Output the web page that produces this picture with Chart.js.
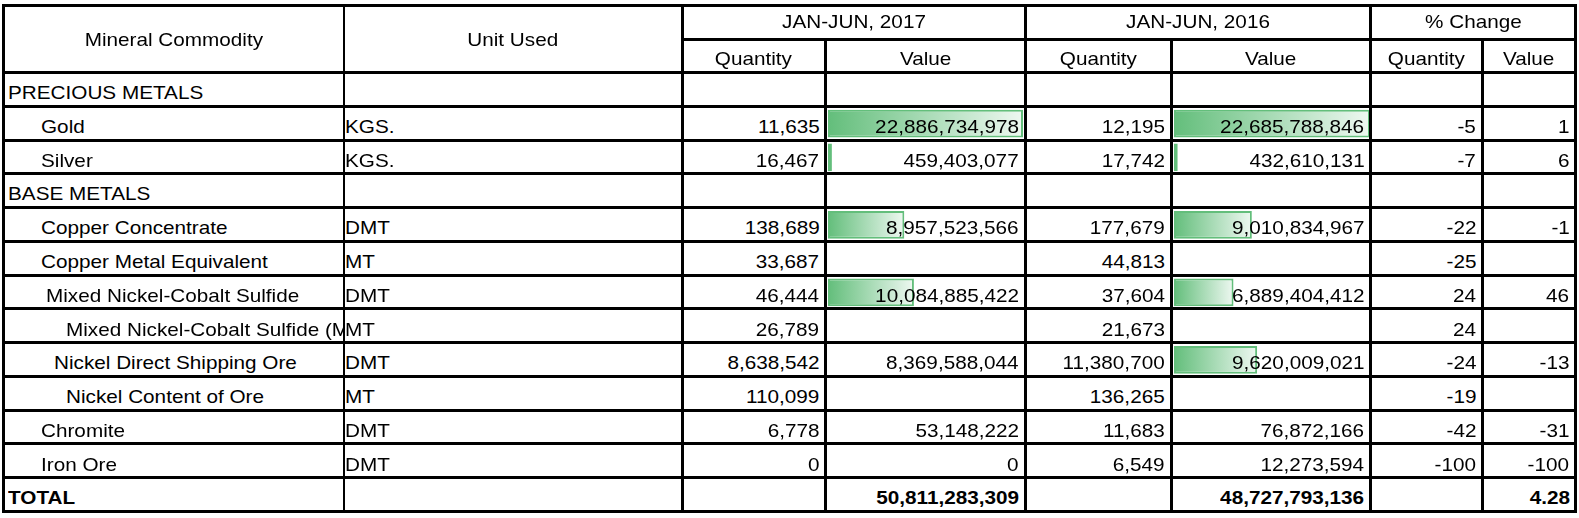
<!DOCTYPE html>
<html>
<head>
<meta charset="utf-8">
<script src="https://cdn.jsdelivr.net/npm/chart.js@4.4.1/dist/chart.umd.min.js"></script>
<style>
  html, body { margin: 0; padding: 0; background: #fff; }
  #sheet { position: relative; width: 1579px; height: 518px; overflow: hidden;
           font-family: 'Liberation Sans', Arial, sans-serif; color: #000; }
  .ln { position: absolute; background: #000; z-index: 2; }
  .c { position: absolute; height: 22px; line-height: 20px; font-size: 19px;
       white-space: nowrap; overflow: hidden; z-index: 3; }
  .c span { display: inline-block; transform: scaleX(1.09); }
  .c.b { font-weight: bold; }
  canvas { position: absolute; z-index: 1; }
</style>
</head>
<body>
<div id="sheet">
  <canvas id="bars-2017" width="195" height="405" style="left:828px; top:73px;"></canvas>
  <canvas id="bars-2016" width="196" height="405" style="left:1174px; top:73px;"></canvas>
</div>

<script>
// table rows
const commodities = [
  'PRECIOUS METALS', 'Gold', 'Silver', 'BASE METALS', 'Copper Concentrate',
  'Copper Metal Equivalent', 'Mixed Nickel-Cobalt Sulfide', 'Mixed Nickel-Cobalt Sulfide (M',
  'Nickel  Direct Shipping Ore', 'Nickel Content of Ore', 'Chromite', 'Iron Ore', 'TOTAL'
];
const units = ['', 'KGS.', 'KGS.', '', 'DMT', 'MT', 'DMT', 'MT', 'DMT', 'MT', 'DMT', 'DMT', ''];

const qty2017   = [null, 11635, 16467, null, 138689, 33687, 46444, 26789, 8638542, 110099, 6778, 0, null];
const value2017 = [null, 22886734978, 459403077, null, 8957523566, null, 10084885422, null, 8369588044, null, 53148222, 0, 50811283309];
const qty2016   = [null, 12195, 17742, null, 177679, 44813, 37604, 21673, 11380700, 136265, 11683, 6549, null];
const value2016 = [null, 22685788846, 432610131, null, 9010834967, null, 6889404412, null, 9620009021, null, 76872166, 12273594, 48727793136];
const pctQty    = [null, -5, -7, null, -22, -25, 24, 24, -24, -19, -42, -100, null];
const pctValue  = [null, 1, 6, null, -1, null, 46, null, -13, null, -31, -100, 4.28];

// cells that carry a data bar in the sheet (no total row)
const bars2017 = [null, 22886734978, 459403077, null, 8957523566, null, 10084885422, null, null, null, null, null];
const bars2016 = [null, 22685788846, 432610131, null, 9010834967, null, 6889404412, null, 9620009021, null, null, null];

// layout
const COLS = [3.5, 344, 682, 825.5, 1025, 1171, 1370.5, 1482, 1575.5];
const HEAD_TOP = 5, HEAD_MID = 39, HEAD_BOT = 72.5, ROW_H = 33.77;
const indent = [8, 41, 41, 8, 41, 41, 46, 66, 54, 66, 41, 41, 8];
const BAR_GREEN = '#63BE7B';

const sheet = document.getElementById('sheet');

function line(x, y, w, h) {
  const d = document.createElement('div');
  d.className = 'ln';
  d.style.left = x + 'px'; d.style.top = y + 'px';
  d.style.width = w + 'px'; d.style.height = h + 'px';
  sheet.appendChild(d);
}
function hline(y, x0, x1, t) { line(x0 - 1.5, y - t / 2, x1 - x0 + 3, t); }
function vline(x, y0, y1, t) { line(x - t / 2, y0 - 1.5, t, y1 - y0 + 3); }

function cell(text, x0, x1, baseline, align, bold) {
  if (text === '' || text == null) return;
  const d = document.createElement('div');
  d.className = 'c' + (bold ? ' b' : '');
  d.style.left = x0 + 'px';
  d.style.width = (x1 - x0) + 'px';
  d.style.top = (baseline - 16.6) + 'px';
  d.style.textAlign = align;
  const s = document.createElement('span');
  s.style.transformOrigin = align === 'right' ? 'right' : align === 'center' ? 'center' : 'left';
  s.textContent = text;
  d.appendChild(s);
  sheet.appendChild(d);
}

const fmt = v => v == null ? '' : v.toLocaleString('en-US');
const rowBottom = i => HEAD_BOT + ROW_H * (i + 1);
const TABLE_BOT = rowBottom(commodities.length - 1);

// grid
hline(HEAD_TOP, COLS[0], COLS[8], 3);
hline(HEAD_MID, COLS[2], COLS[8], 3);
hline(HEAD_BOT, COLS[0], COLS[8], 3);
commodities.forEach((c, i) => hline(rowBottom(i), COLS[0], COLS[8], 3));
[0, 2, 4, 6, 8].forEach(k => vline(COLS[k], HEAD_TOP, TABLE_BOT, 3));
vline(COLS[1], HEAD_TOP, TABLE_BOT, 2);
[3, 5, 7].forEach(k => vline(COLS[k], HEAD_MID, TABLE_BOT, 3));

// header
cell('Mineral Commodity', COLS[0], COLS[1], 46.5, 'center');
cell('Unit Used', COLS[1], COLS[2], 46.5, 'center');
cell('JAN-JUN, 2017', COLS[2], COLS[4], 29, 'center');
cell('JAN-JUN, 2016', COLS[4], COLS[6], 29, 'center');
cell('% Change', COLS[6], COLS[8], 29, 'center');
['Quantity', 'Value', 'Quantity', 'Value', 'Quantity', 'Value'].forEach((t, k) =>
  cell(t, COLS[k + 2], COLS[k + 3], 65.5, 'center'));

// body
const PAD = 6;
commodities.forEach((name, i) => {
  const base = rowBottom(i) - 6.5;
  const bold = i === commodities.length - 1;
  cell(name, indent[i], COLS[1] - 1, base, 'left', bold);
  cell(units[i], COLS[1] + 1, COLS[2] - 2, base, 'left', bold);
  [qty2017, value2017, qty2016, value2016, pctQty, pctValue].forEach((col, k) =>
    cell(fmt(col[i]), COLS[k + 2] + 2, COLS[k + 3] - PAD, base, 'right', bold));
});

// data bars
function setValueBars(id, bars) {
  const max = Math.max(...bars.filter(v => v != null));
  new Chart(document.getElementById(id), {
    type: 'bar',
    data: {
      labels: commodities.slice(0, bars.length),
      datasets: [{
        data: bars,
        borderColor: BAR_GREEN,
        borderWidth: 2,
        borderSkipped: false,
        barPercentage: 0.82,
        categoryPercentage: 1,
        backgroundColor: function(context) {
          const chart = context.chart;
          if (!chart.chartArea || context.raw == null) return BAR_GREEN;
          const x = chart.scales.x;
          const x0 = x.getPixelForValue(0);
          const x1 = x.getPixelForValue(context.raw);
          const g = chart.ctx.createLinearGradient(x0, 0, Math.max(x1, x0 + 1), 0);
          g.addColorStop(0, BAR_GREEN);
          g.addColorStop(1, '#EEF8F1');
          return g;
        },
      }],
    },
    options: {
      indexAxis: 'y',
      responsive: false,
      animation: false,
      layout: { padding: 0 },
      plugins: { legend: { display: false }, tooltip: { enabled: false } },
      scales: {
        x: { display: false, min: 0, max: max },
        y: { display: false },
      },
    },
  });
}

setValueBars('bars-2017', bars2017);
setValueBars('bars-2016', bars2016);
</script>
</body>
</html>
